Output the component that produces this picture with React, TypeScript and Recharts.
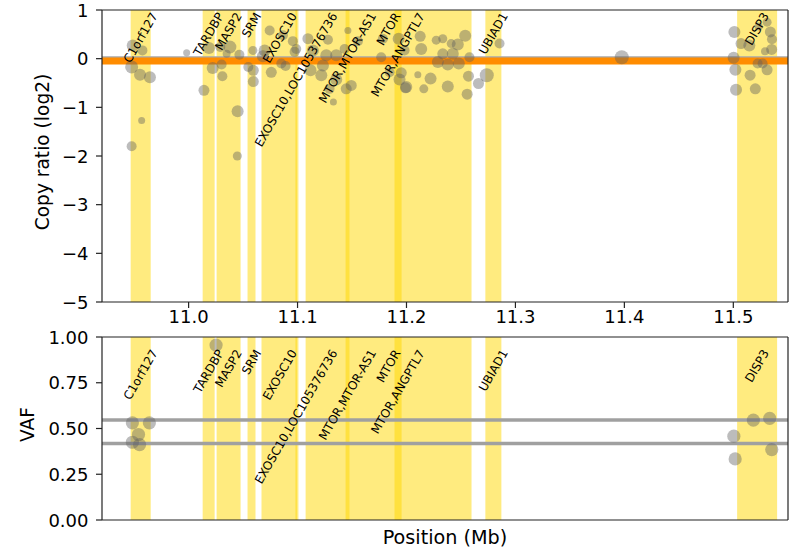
import React from "react";
import { ReferenceArea, ReferenceLine, Scatter, ScatterChart, XAxis, YAxis } from "recharts";

// x positions in Mb
const xDomain = [10.9205, 11.5502];
const xTicks = [11.0, 11.1, 11.2, 11.3, 11.4, 11.5];
const cnTicks = [-5, -4, -3, -2, -1, 0, 1];
const vafTicks = [0, 0.25, 0.5, 0.75, 1];

const geneNames = ["C1orf127", "TARDBP", "MASP2", "SRM", "EXOSC10", "EXOSC10,LOC105376736", "MTOR", "MTOR,MTOR-AS1", "MTOR,ANGPTL7", "UBIAD1", "DISP3"];
const geneStart = [10.9468, 11.0129, 11.0257, 11.0541, 11.0669, 11.0981, 11.1074, 11.1441, 11.189, 11.2724, 11.5035];
const geneEnd = [10.9652, 11.0239, 11.0477, 11.0614, 11.1008, 11.0994, 11.2597, 11.1477, 11.1955, 11.2871, 11.5402];

// copy ratio bins
const cnPos = [
  10.9487, 10.9576, 10.9477, 10.9554, 10.9645, 10.9569, 10.9477, 10.9982, 11.0187, 11.0221,
  11.0141, 11.0291, 11.0379, 11.0303, 11.031, 11.045, 11.0447, 11.0466, 11.0349, 11.0548,
  11.0594, 11.0594, 11.059, 11.0744, 11.0698, 11.0866, 11.0957, 11.0988, 11.089, 11.0759,
  11.0682, 11.0851, 11.0973, 11.1095, 11.1141, 11.1264, 11.1355, 11.1119, 11.1218, 11.1294,
  11.1355, 11.1447, 11.1493, 11.1432, 11.1554, 11.1279, 11.1329, 11.1462, 11.1768, 11.1783,
  11.1928, 11.1982, 11.1998, 11.1845, 11.1936, 11.2126, 11.2135, 11.2273, 11.2333, 11.241,
  11.2471, 11.2539, 11.2333, 11.2425, 11.2288, 11.2379, 11.248, 11.2578, 11.1952, 11.2104,
  11.2221, 11.1991, 11.2159, 11.2379, 11.2569, 11.2557, 11.1233, 11.2854, 11.2737, 11.2661,
  11.3976, 11.501, 11.5003, 11.5019, 11.5025, 11.5071, 11.5147, 11.5154, 11.5202, 11.5233,
  11.531, 11.534, 11.5355, 11.5352, 11.5291, 11.5223, 11.531, 11.5269,
];
const cnLog2 = [
  0.27, 0.17, -0.17, -0.33, -0.38, -1.27, -1.8, 0.12, 0.22, -0.19,
  -0.65, 0.24, 0.24, -0.12, -0.36, -1.08, -2.0, 0.08, 0.1, -0.17,
  -0.24, -0.47, 0.17, 0.58, 0.17, 0.48, 0.36, 0.2, -0.15, -0.28,
  0.05, -0.1, 0.14, 0.41, 0.17, 0.07, 0.07, -0.24, -0.34, -0.62,
  -0.43, -0.62, -0.55, 0.2, 0.36, 0.39, -0.89, 0.58, 0.03, 0.41,
  0.41, 0.17, -0.58, -0.28, -0.43, 0.46, 0.2, 0.38, 0.41, 0.31,
  0.29, 0.47, 0.1, 0.1, -0.07, -0.12, -0.1, 0.03, -0.29, -0.33,
  -0.41, -0.6, -0.62, -0.57, -0.36, -0.73, -0.14, 0.31, -0.34, -0.51,
  0.03, 0.55, 0.02, -0.23, -0.64, 0.31, 0.27, -0.34, -0.62, 0.66,
  0.75, 0.55, 0.4, 0.19, 0.15, -0.1, -0.23, -0.1,
];
const cnSize = [
  6, 5, 6.5, 6, 6, 3.5, 5, 3.5, 6, 6,
  5.5, 5, 6.5, 5, 5, 6, 4.5, 5, 4, 5,
  5.5, 5.5, 4.5, 5, 6, 5, 5, 5, 5, 5.5,
  6, 5, 5, 5.5, 6, 6, 6, 6, 6, 5,
  6, 5.5, 5.5, 5, 5, 5, 3.5, 3.5, 5, 5,
  6, 5, 6, 5, 6, 5.5, 6, 4.5, 4.5, 4.5,
  6, 6, 5.5, 6, 6, 6, 6, 5, 5.5, 3.5,
  6, 5.5, 4.5, 6, 5.5, 5.5, 6, 5, 7, 5.5,
  7, 6, 6, 6, 6, 5.5, 6, 5.5, 5.5, 4,
  4.5, 5.5, 5, 5.5, 4, 5, 5.5, 5,
];
const segmentLog2 = -0.05;

// allele frequencies
const vafPos = [10.9484, 10.964, 10.954, 10.9484, 10.955, 11.0252, 11.5184, 11.5334, 11.5005, 11.5353, 11.5017];
const vafValue = [0.531, 0.531, 0.467, 0.425, 0.412, 0.956, 0.546, 0.555, 0.458, 0.385, 0.334];
const vafLevels = [0.546, 0.418];

const cnData = cnPos.map((x, i) => ({ x, y: cnLog2[i], r: cnSize[i] }));
const vafData = vafPos.map((x, i) => ({ x, y: vafValue[i], r: 6.6 }));
// gene labels sit at the top edge of each panel, centred on the gene
const geneTop = (top: number) => geneNames.map((name, i) => ({ x: (geneStart[i] + geneEnd[i]) / 2, y: top, name }));

const FONT = "DejaVu Sans";
const INK = "#222";
const TICK_FS = 18;

let ctx: CanvasRenderingContext2D | null = null;
function textWidth(s: string) {
  if (!ctx && typeof document !== "undefined") ctx = document.createElement("canvas").getContext("2d");
  if (!ctx) return s.length * 7;
  ctx.font = `12px "${FONT}"`;
  return ctx.measureText(s).width;
}

const dot = (p: any) => (
  <circle cx={p.cx} cy={p.cy} r={p.payload?.r ?? p.r ?? 6} fill="#606060" fillOpacity={0.42} />
);

const geneText = (topGap: number) => (p: any) => {
  const name: string = p.payload?.name ?? p.name ?? "";
  const cx = p.cx;
  const cy = p.cy + topGap + (textWidth(name) * 0.866 + 11 * 0.5) / 2;
  return (
    <text x={cx} y={cy} transform={`rotate(-60 ${cx} ${cy})`} textAnchor="middle" dominantBaseline="central"
      fontSize={12} fontFamily={FONT} fill="#000">{name}</text>
  );
};

const leftTick = (fmt: (v: number) => string) => (p: any) => (
  <text x={p.x} y={p.y} textAnchor="end" dominantBaseline="central" fontSize={TICK_FS} fontFamily={FONT} fill="#000">
    {fmt(p.payload.value)}
  </text>
);

const bottomTick = (p: any) => (
  <text x={p.x} y={p.y} dy="0.76em" textAnchor="middle" fontSize={TICK_FS} fontFamily={FONT} fill="#000">
    {p.payload.value.toFixed(1)}
  </text>
);

const yTitle = (title: string, dx: number) => (p: any) => {
  const vb = p.viewBox;
  const cx = vb.x + dx;
  const cy = vb.y + vb.height / 2 - 4;
  return (
    <text x={cx} y={cy} transform={`rotate(-90 ${cx} ${cy})`} textAnchor="middle" dominantBaseline="central"
      fontSize={18.6} fontFamily={FONT} fill="#000">{title}</text>
  );
};

const xTitle = (p: any) => {
  const vb = p.viewBox;
  return (
    <text x={vb.x + vb.width / 2} y={vb.y + 17} textAnchor="middle" dominantBaseline="central"
      fontSize={19.2} fontFamily={FONT} fill="#000">Position (Mb)</text>
  );
};

const minus = (v: number) => (v < 0 ? "\u2212" + Math.abs(v) : String(v));

export default function App() {
  const bands = geneNames.map((g, i) => (
    <ReferenceArea key={"band" + g} xAxisId="b" yAxisId="l" x1={geneStart[i]} x2={geneEnd[i]}
      fill="#FFD700" fillOpacity={0.5} stroke="none" />
  ));

  return (
    <div style={{ position: "absolute", left: 0, top: 0, width: 791, height: 552, background: "#fff" }}>
      <div style={{ position: "absolute", left: 0, top: 0 }}>
        <ScatterChart width={791} height={330} margin={{ top: 9, right: 2, bottom: 3, left: 0 }}>
          <XAxis xAxisId="b" type="number" dataKey="x" domain={xDomain} ticks={xTicks} allowDataOverflow
            height={25} tickSize={6} tickMargin={1} stroke={INK} strokeWidth={1.2} tick={bottomTick} />
          <XAxis xAxisId="t" type="number" orientation="top" domain={xDomain} allowDataOverflow height={1}
            tick={false} tickLine={false} stroke={INK} strokeWidth={1.2} />
          <YAxis yAxisId="l" type="number" dataKey="y" domain={[-5, 1]} ticks={cnTicks} allowDataOverflow
            width={102} tickSize={6} tickMargin={7.5} stroke={INK} strokeWidth={1.2}
            tick={leftTick(minus)} label={yTitle("Copy ratio (log2)", 42.5)} />
          <YAxis yAxisId="r" type="number" orientation="right" domain={[-5, 1]} allowDataOverflow width={1}
            tick={false} tickLine={false} stroke={INK} strokeWidth={1.2} />
          {bands}
          <ReferenceLine xAxisId="b" yAxisId="l" y={0} stroke="#a8a8a8" strokeWidth={5} />
          <ReferenceLine xAxisId="b" yAxisId="l" y={segmentLog2} stroke="#FF8C00" strokeWidth={7} />
          <Scatter xAxisId="b" yAxisId="l" data={cnData} shape={dot} isAnimationActive={false} />
          <Scatter xAxisId="b" yAxisId="l" data={geneTop(1)} shape={geneText(1)} isAnimationActive={false} />
        </ScatterChart>
      </div>
      <div style={{ position: "absolute", left: 0, top: 320 }}>
        <ScatterChart width={791} height={232} margin={{ top: 16, right: 2, bottom: 0, left: 0 }}>
          <XAxis xAxisId="b" type="number" dataKey="x" domain={xDomain} allowDataOverflow height={32}
            tick={false} tickLine={false} stroke={INK} strokeWidth={1.2} label={xTitle} />
          <XAxis xAxisId="t" type="number" orientation="top" domain={xDomain} ticks={xTicks} allowDataOverflow
            height={1} tickSize={6} tickFormatter={() => ""} stroke={INK} strokeWidth={1.2} />
          <YAxis yAxisId="l" type="number" dataKey="y" domain={[0, 1]} ticks={vafTicks} allowDataOverflow
            width={102} tickSize={6} tickMargin={7.5} stroke={INK} strokeWidth={1.2}
            tick={leftTick((v) => v.toFixed(2))} label={yTitle("VAF", 27.5)} />
          <YAxis yAxisId="r" type="number" orientation="right" domain={[0, 1]} allowDataOverflow width={1}
            tick={false} tickLine={false} stroke={INK} strokeWidth={1.2} />
          {bands}
          {vafLevels.map((v) => (
            <ReferenceLine key={v} xAxisId="b" yAxisId="l" y={v} stroke="#a0a0a0" strokeWidth={3.5} />
          ))}
          <Scatter xAxisId="b" yAxisId="l" data={vafData} shape={dot} isAnimationActive={false} />
          <Scatter xAxisId="b" yAxisId="l" data={geneTop(1)} shape={geneText(11)} isAnimationActive={false} />
        </ScatterChart>
      </div>
    </div>
  );
}
